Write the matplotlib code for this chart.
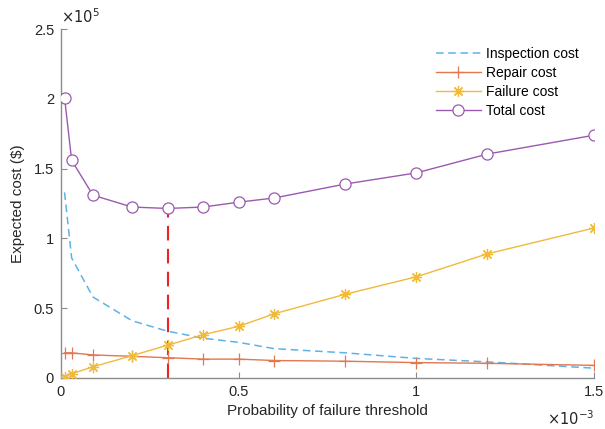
import numpy as np
import matplotlib
matplotlib.use("Agg")
import matplotlib.pyplot as plt
from matplotlib.ticker import FuncFormatter

plt.rcParams["font.family"] = ["Liberation Sans", "DejaVu Sans"]

# probability of failure threshold
pf_threshold = [0.00001, 0.00003, 0.00009, 0.0002, 0.0003, 0.0004, 0.0005,
                0.0006, 0.0008, 0.0010, 0.0012, 0.0015]

inspection_cost = [133000, 86000, 58000, 41000, 33500, 28500, 25500,
                   21000, 18000, 14000, 11500, 7000]
repair_cost = [18000, 18000, 16500, 15500, 14500, 13500, 13500,
               12500, 12000, 11000, 10500, 9000]
failure_cost = [1000, 3000, 8000, 16000, 23500, 31000, 37000,
                46000, 60000, 72500, 89000, 107500]
total_cost = [201000, 156000, 131000, 122500, 121500, 122500, 126000,
              129000, 139000, 147000, 160500, 174000]

optimum_idx = int(np.argmin(total_cost))

fig = plt.figure(figsize=(6.05, 4.29), dpi=100)
ax = fig.add_axes([0.1008, 0.119, 0.8812, 0.813])

c_insp = "#5DB3E6"
c_rep = "#E27750"
c_fail = "#F0BA3A"
c_tot = "#9B5AAE"

ax.vlines(pf_threshold[optimum_idx], 0, total_cost[optimum_idx],
          colors="#EE2222", linestyles=(0, (7, 4)), linewidth=1.5, zorder=1)

ax.plot(pf_threshold, inspection_cost, color=c_insp, linestyle=(0, (5, 3)),
        linewidth=1.1, label="Inspection cost", zorder=2)
ax.plot(pf_threshold, repair_cost, color=c_rep, marker="+", markersize=8,
        markeredgewidth=0.9, linewidth=1.0, label="Repair cost", zorder=3)
# MATLAB-style asterisk marker
ax.plot(pf_threshold, failure_cost, color=c_fail, marker=(8, 2, 0),
        markersize=8, markeredgewidth=0.9, linewidth=1.0,
        label="Failure cost", zorder=4)
ax.plot(pf_threshold, total_cost, color=c_tot, marker="o", markersize=8,
        markerfacecolor="white", markeredgewidth=0.9, linewidth=1.0,
        label="Total cost", zorder=5)

ax.set_xlim(0, 0.0015)
ax.set_ylim(0, 250000)
ax.set_xticks([0, 0.0005, 0.001, 0.0015])
ax.set_yticks([0, 50000, 100000, 150000, 200000, 250000])
ax.xaxis.set_major_formatter(FuncFormatter(lambda v, p: f"{v * 1e3:g}"))
ax.yaxis.set_major_formatter(FuncFormatter(lambda v, p: f"{v / 1e5:g}"))

for side in ["top", "right"]:
    ax.spines[side].set_visible(False)
for side in ["left", "bottom"]:
    ax.spines[side].set_color("#8C8C8C")
    ax.spines[side].set_linewidth(1.0)
ax.tick_params(direction="in", length=4, color="#8C8C8C", labelsize=10.5,
               labelcolor="#262626", pad=5)

ax.set_xlabel("Probability of failure threshold", fontsize=11, color="#262626",
              labelpad=4)
ax.set_ylabel("Expected cost ($)", fontsize=11, color="#262626", labelpad=6)

ax.text(0.0, 1.01, r"$\times10^5$", transform=ax.transAxes, fontsize=10.5,
        color="#262626", ha="left", va="bottom")
ax.text(1.0, -0.09, r"$\times10^{-3}$", transform=ax.transAxes, fontsize=10.5,
        color="#262626", ha="right", va="top")

ax.legend(loc="upper right", bbox_to_anchor=(0.995, 0.985), frameon=False,
          fontsize=10, handlelength=3.2, labelspacing=0.36, handletextpad=0.4)

fig.savefig("out.png", dpi=100)
